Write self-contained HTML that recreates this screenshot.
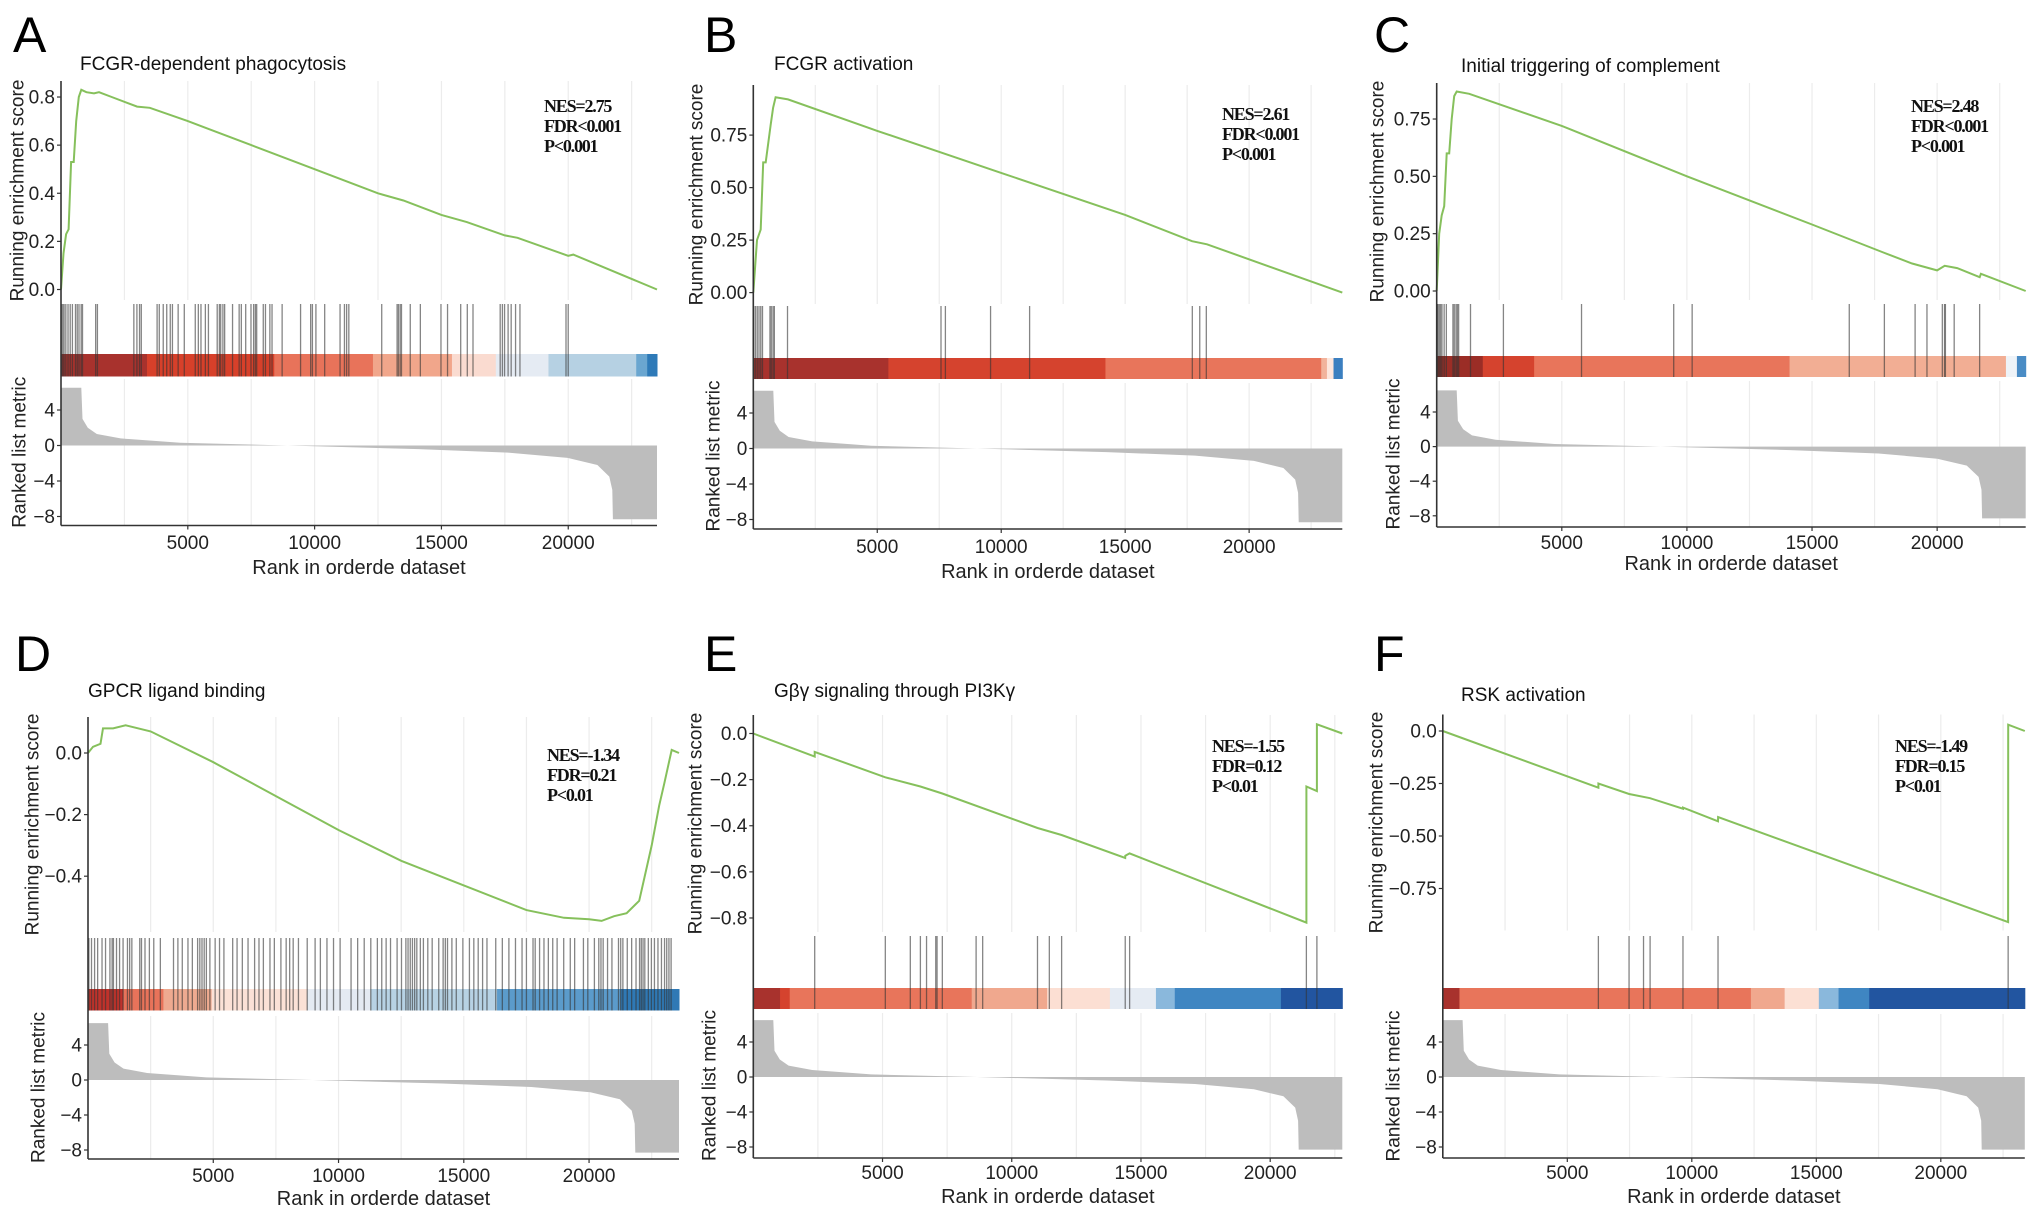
<!DOCTYPE html>
<html><head><meta charset="utf-8"><title>GSEA plots</title>
<style>
html,body{margin:0;padding:0;background:#fff;}
svg{display:block;font-family:"Liberation Sans",sans-serif;}
.stat{font-family:"Liberation Serif",serif;font-weight:bold;font-size:18px;letter-spacing:-1.2px;fill:#111;}
</style></head>
<body>
<svg id="fig" width="2032" height="1215" viewBox="0 0 2032 1215" xmlns="http://www.w3.org/2000/svg"></svg>
<script>
// ---------- data ----------
const panelIds = ["A","B","C","D","E","F"];
const panelTitles = ["FCGR-dependent phagocytosis","FCGR activation","Initial triggering of complement","GPCR ligand binding","Gβγ signaling through PI3Kγ","RSK activation"];
const statsNES = ["NES=2.75","NES=2.61","NES=2.48","NES=-1.34","NES=-1.55","NES=-1.49"];
const statsFDR = ["FDR<0.001"," FDR<0.001","FDR<0.001","FDR=0.21","FDR=0.12","FDR=0.15"];
const statsP = ["P<0.001"," P<0.001","P<0.001","P<0.01","P<0.01","P<0.01"];
const rankTicks = [5000,10000,15000,20000];
const rankTickLabels = ["5000","10000","15000","20000"];
const metricTicks = [4,0,-4,-8];
const metricTickLabels = ["4","0","\u22124","\u22128"];

const esTicksA = [0,0.2,0.4,0.6,0.8];
const esTickLabelsA = ["0.0","0.2","0.4","0.6","0.8"];
const esTicksB = [0,0.25,0.5,0.75];
const esTickLabelsB = ["0.00","0.25","0.50","0.75"];
const esTicksC = [0,0.25,0.5,0.75];
const esTickLabelsC = ["0.00","0.25","0.50","0.75"];
const esTicksD = [0,-0.2,-0.4];
const esTickLabelsD = ["0.0","\u22120.2","\u22120.4"];
const esTicksE = [0,-0.2,-0.4,-0.6,-0.8];
const esTickLabelsE = ["0.0","\u22120.2","\u22120.4","\u22120.6","\u22120.8"];
const esTicksF = [0,-0.25,-0.5,-0.75];
const esTickLabelsF = ["0.0","\u22120.25","\u22120.50","\u22120.75"];

const esRanksA = [0,100,200,300,400,500,600,700,800,1000,1300,1500,2000,3000,3500,5000,7500,10000,12500,13500,15000,16000,17500,18000,20000,20200,23500];
const esValuesA = [0,0.15,0.23,0.25,0.53,0.53,0.70,0.80,0.83,0.82,0.815,0.82,0.80,0.76,0.755,0.70,0.60,0.50,0.40,0.37,0.31,0.28,0.225,0.215,0.14,0.145,0];
const esRanksB = [0,150,300,400,500,700,800,900,1400,5000,10000,15000,17700,18300,23758];
const esValuesB = [0,0.25,0.3,0.62,0.62,0.80,0.88,0.93,0.92,0.77,0.57,0.37,0.245,0.23,0];
const esRanksC = [0,100,200,300,400,500,600,700,800,1300,5000,10000,15000,17800,19000,20000,20300,20800,21700,21750,23539];
const esValuesC = [0,0.25,0.33,0.37,0.6,0.6,0.75,0.85,0.87,0.86,0.72,0.5,0.29,0.17,0.12,0.09,0.11,0.10,0.06,0.075,0];
const esRanksD = [0,200,500,600,1000,1500,2500,5000,7500,10000,12500,15000,17500,19000,20000,20500,21000,21500,22000,22500,22800,23000,23300,23590];
const esValuesD = [0,0.02,0.03,0.08,0.08,0.09,0.07,-0.03,-0.14,-0.25,-0.35,-0.43,-0.51,-0.535,-0.54,-0.545,-0.53,-0.52,-0.48,-0.30,-0.17,-0.10,0.01,0.0];
const esRanksE = [0,2376,2377,5108,6465,7314,10996,11930,14391,14392,14561,21400,21401,21807,21808,22790];
const esValuesE = [0,-0.10,-0.08,-0.19,-0.23,-0.26,-0.41,-0.44,-0.54,-0.53,-0.52,-0.82,-0.23,-0.25,0.04,0.0];
const esRanksF = [0,6248,6249,7480,8325,9645,9646,11053,11054,22704,22705,23373];
const esValuesF = [0,-0.27,-0.25,-0.30,-0.32,-0.37,-0.365,-0.43,-0.41,-0.91,0.03,0.0];

const hitsA = [17,69,121,190,277,363,450,571,640,709,796,848,1367,1436,2872,2993,3097,3166,3789,3875,4031,4169,4308,4394,4619,4861,5294,5415,5519,5692,5813,6159,6245,6297,6384,6453,6764,7024,7110,7283,7491,7595,7664,7716,7975,8062,8235,8321,8719,9446,9844,9913,10051,10397,11003,11176,11262,11349,12646,13252,13304,13373,13425,13771,14169,14982,15241,15760,16020,16245,17317,17404,17490,17629,17750,17923,18096,19912,19999];
const hitsB = [18,88,159,230,301,371,672,725,796,849,1380,7571,7748,9570,11145,17708,18008,18273];
const hitsC = [18,53,105,158,210,298,386,649,702,772,825,877,1351,2666,5788,9472,10209,16488,17891,19119,19593,20207,20295,20330,20681,21698];
const hitsD = [35,140,263,385,560,700,875,963,1015,1138,1260,1400,1575,1663,1750,2065,2135,2275,2450,2625,2888,3413,3588,3763,3990,4165,4375,4463,4550,4638,4725,4865,5075,5250,5425,5775,5950,6160,6388,6650,6825,7000,7263,7438,7700,7910,8050,8190,8400,8750,9065,9275,9538,9800,10063,10500,10763,11025,11288,11550,11725,11900,12075,12338,12513,12688,12775,12863,12950,13038,13125,13265,13388,13563,13738,14000,14175,14263,14350,14525,14700,14963,15225,15400,15575,15750,15925,16275,16538,16800,17063,17325,17500,17763,17850,18025,18200,18375,18550,18725,18988,19250,19425,19775,19950,20213,20388,20475,20563,20738,20913,21175,21263,21350,21525,21700,21875,22015,22085,22155,22225,22365,22488,22610,22750,22890,23013,23100,23188,23275];
const hitsE = [2376,5108,6075,6465,6703,7059,7110,7314,8621,8875,10996,11454,11930,14391,14561,21400,21807];
const hitsF = [6248,7480,8061,8325,9645,11053,22704];

const barStartsA = [0,3391,8408,12300,15415,17145,19221,22681,23114];
const barColorsA = ["#a8322d","#d7402a","#e8735a","#f1a68b","#fadbd0","#e5ebf3","#b6d1e3","#6aa6d0","#2e7ab8"];
const barStartsB = [0,5449,14205,22908,23138,23404];
const barColorsB = ["#a8322d","#d5432e","#e8755b","#f2b39b","#fde6dc","#3b7fc0"];
const barStartsC = [0,1842,3894,14102,22749,23188];
const barColorsC = ["#9b2d26","#d5432e","#e8755b","#f2ae94","#eef3f8","#4a8cc5"];
const barStartsD = [0,1400,3010,4935,8750,11288,16328,21263];
const barColorsD = ["#c0322b","#e8735a","#eeaa90","#fbe1d6","#e4eaf2","#b7d2e4","#5b9bcb","#2f79b5"];
const barStartsE = [0,1035,1409,8451,11370,13797,15579,16308,20415];
const barColorsE = ["#a8322d","#d5432e","#e8755b","#f0a88e","#fcdfd3","#e5ebf3","#8ab8dc","#3f86c2","#2255a0"];
const barStartsF = [0,669,12373,13728,15101,15893,17125];
const barColorsF = ["#a8322d","#e8755b","#f0a88e","#fce0d4","#8ab8dc","#3f86c2","#2255a0"];

// ranked list metric shape (fraction of list, value)
const metricFrac = [0,0.034,0.036,0.045,0.06,0.1,0.2,0.38,0.6,0.75,0.85,0.9,0.92,0.925,0.926,1];
const metricVal = [6.5,6.5,3,2,1.3,0.8,0.3,0,-0.4,-0.8,-1.4,-2.2,-3.5,-5,-8.3,-8.3];

// ---------- layout (pixels) ----------
const L = {
 A:{x0:61,xmax:23500,w:596,esTop:81,esBot:300,esY0:289.5,esPx:240.6,tkTop:304,barTop:354,barBot:376.5,mTop:379,mBot:525.5,mY0:445.5,mPx:8.875,xlY:549,xtY:574,ttlX:80,ttlY:70,letX:13,letY:52,ylX:18,ylmX:20,stX:544,stY:112,esTicks:esTicksA,esLab:esTickLabelsA,esR:esRanksA,esV:esValuesA,hits:hitsA,bs:barStartsA,bc:barColorsA},
 B:{x0:753.3,xmax:23758,w:589,esTop:85,esBot:304,esY0:292.6,esPx:210,tkTop:306,barTop:358,barBot:379,mTop:383,mBot:529,mY0:448.5,mPx:8.875,xlY:553,xtY:578,ttlX:774,ttlY:70,letX:704,letY:52,ylX:697,ylmX:714,stX:1222,stY:120,esTicks:esTicksB,esLab:esTickLabelsB,esR:esRanksB,esV:esValuesB,hits:hitsB,bs:barStartsB,bc:barColorsB},
 C:{x0:1436.7,xmax:23539,w:589,esTop:83,esBot:300,esY0:291,esPx:229.3,tkTop:304,barTop:356,barBot:377,mTop:381,mBot:527,mY0:446.6,mPx:8.65,xlY:549,xtY:570,ttlX:1461,ttlY:72,letX:1374,letY:52,ylX:1378,ylmX:1394,stX:1911,stY:112,esTicks:esTicksC,esLab:esTickLabelsC,esR:esRanksC,esV:esValuesC,hits:hitsC,bs:barStartsC,bc:barColorsC},
 D:{x0:88,xmax:23590,w:591,esTop:717,esBot:932,esY0:753,esPx:308,tkTop:938,barTop:989,barBot:1010.5,mTop:1016,mBot:1159,mY0:1080,mPx:8.75,xlY:1182,xtY:1205,ttlX:88,ttlY:697,letX:15,letY:671,ylX:33,ylmX:39,stX:547,stY:761,esTicks:esTicksD,esLab:esTickLabelsD,esR:esRanksD,esV:esValuesD,hits:hitsD,bs:barStartsD,bc:barColorsD},
 E:{x0:753.3,xmax:22790,w:589,esTop:715,esBot:932,esY0:733.5,esPx:230.6,tkTop:936,barTop:988,barBot:1009,mTop:1013,mBot:1158,mY0:1077,mPx:8.75,xlY:1179,xtY:1203,ttlX:774,ttlY:697,letX:704,letY:671,ylX:696,ylmX:710,stX:1212,stY:752,esTicks:esTicksE,esLab:esTickLabelsE,esR:esRanksE,esV:esValuesE,hits:hitsE,bs:barStartsE,bc:barColorsE},
 F:{x0:1442.8,xmax:23373,w:582,esTop:714.5,esBot:930.5,esY0:731,esPx:210,tkTop:936,barTop:988,barBot:1009,mTop:1014,mBot:1158,mY0:1077,mPx:8.75,xlY:1179,xtY:1203,ttlX:1461,ttlY:701,letX:1374,letY:671,ylX:1377,ylmX:1394,stX:1895,stY:752,esTicks:esTicksF,esLab:esTickLabelsF,esR:esRanksF,esV:esValuesF,hits:hitsF,bs:barStartsF,bc:barColorsF}
};

const NS = "http://www.w3.org/2000/svg";
const fig = document.getElementById("fig");
function mk(tag, parent, attrs){
  const e = document.createElementNS(NS, tag);
  for (const k in attrs) e.setAttribute(k, attrs[k]);
  parent.appendChild(e);
  return e;
}

panelIds.forEach((id, i) => {
  const c = L[id];
  const g = mk("g", fig, {});
  
  
  const xs = r => c.x0 + (r / c.xmax) * c.w;
  const ys = v => c.esY0 - v * c.esPx;
  const ym = v => c.mY0 - v * c.mPx;
  const xEnd = c.x0 + c.w;

  for (let r = 2500; r < c.xmax; r += 2500) {
    const x = xs(r);
    const gl = mk("line", g, {x1:x, x2:x, y1:c.esTop, y2:c.esBot, stroke:"#ececec", "stroke-width":1.2});
    
    
    const gl2 = mk("line", g, {x1:x, x2:x, y1:c.mTop, y2:c.mBot, stroke:"#ececec", "stroke-width":1.2});
    
    
  }

  c.bs.forEach((s, k) => {
    const e = k + 1 < c.bs.length ? c.bs[k+1] : c.xmax;
    const rc = mk("rect", g, {x:xs(s), y:c.barTop, width:Math.max(0, xs(e) - xs(s)) + 0.5, height:c.barBot - c.barTop, fill:c.bc[k]});
    
    
  });

  c.hits.forEach(h => {
    const x = xs(h);
    const hl = mk("line", g, {x1:x, x2:x, y1:c.tkTop, y2:c.barBot, stroke:"#333", "stroke-width":1.3, "stroke-opacity":0.6});
    
    
  });

  let d = "M" + xs(0) + "," + ym(0);
  metricFrac.forEach((f, k) => { d += " L" + xs(f * c.xmax).toFixed(1) + "," + ym(metricVal[k]).toFixed(1); });
  d += " L" + xs(c.xmax) + "," + ym(0) + " Z";
  const ma = mk("path", g, {d:d, fill:"#bdbdbd", stroke:"none"});
  
  

  const pts = c.esR.map((r, k) => xs(r).toFixed(1) + "," + ys(c.esV[k]).toFixed(1)).join(" ");
  const es = mk("polyline", g, {points:pts, fill:"none", stroke:"#86c05c", "stroke-width":2});
  
  

  const ya = mk("line", g, {x1:c.x0, x2:c.x0, y1:c.esTop, y2:c.mBot, stroke:"#333", "stroke-width":1.6});
  
  
  const xa = mk("line", g, {x1:c.x0, x2:xEnd, y1:c.mBot, y2:c.mBot, stroke:"#333", "stroke-width":1.6});
  
  

  c.esTicks.forEach((v, k) => {
    const y = ys(v);
    mk("line", g, {x1:c.x0 - 4, x2:c.x0, y1:y, y2:y, stroke:"#333", "stroke-width":1.2});
    const t = mk("text", g, {x:c.x0 - 6, y:y + 6.5, "text-anchor":"end", "font-size":19, fill:"#222"});
    t.textContent = c.esLab[k];
    
    
  });
  metricTicks.forEach((v, k) => {
    const y = ym(v);
    mk("line", g, {x1:c.x0 - 4, x2:c.x0, y1:y, y2:y, stroke:"#333", "stroke-width":1.2});
    const t = mk("text", g, {x:c.x0 - 6, y:y + 6.5, "text-anchor":"end", "font-size":19, fill:"#222"});
    t.textContent = metricTickLabels[k];
    
    
  });
  rankTicks.forEach((r, k) => {
    const x = xs(r);
    mk("line", g, {x1:x, x2:x, y1:c.mBot, y2:c.mBot + 4, stroke:"#333", "stroke-width":1.2});
    const t = mk("text", g, {x:x, y:c.xlY, "text-anchor":"middle", "font-size":19, fill:"#222"});
    t.textContent = rankTickLabels[k];
    
    
  });

  const xt = mk("text", g, {x:(c.x0 + xEnd) / 2, y:c.xtY, "text-anchor":"middle", "font-size":20, fill:"#222"});
  xt.textContent = "Rank in orderde dataset";
  
  
  const ey = (c.esTop + c.esBot) / 2;
  const yt = mk("text", g, {x:c.ylX, y:ey, "text-anchor":"middle", "font-size":19, fill:"#222", "dominant-baseline":"central", transform:"rotate(-90 " + c.ylX + " " + ey + ")"});
  yt.textContent = "Running enrichment score";
  
  
  const my = (c.mTop + c.mBot) / 2;
  const mt = mk("text", g, {x:c.ylmX, y:my, "text-anchor":"middle", "font-size":19, fill:"#222", "dominant-baseline":"central", transform:"rotate(-90 " + c.ylmX + " " + my + ")"});
  mt.textContent = "Ranked list metric";
  
  

  const tt = mk("text", g, {x:c.ttlX, y:c.ttlY, "font-size":19, fill:"#111"});
  tt.textContent = panelTitles[i];
  
  
  const lt = mk("text", g, {x:c.letX, y:c.letY, "font-size":50, fill:"#000"});
  lt.textContent = id;
  
  

  [statsNES[i], statsFDR[i], statsP[i]].forEach((s, k) => {
    const st = mk("text", g, {x:c.stX, y:c.stY + k * 20, "class":"stat"});
    st.textContent = s;
    
    
  });
});
</script>
</body></html>
